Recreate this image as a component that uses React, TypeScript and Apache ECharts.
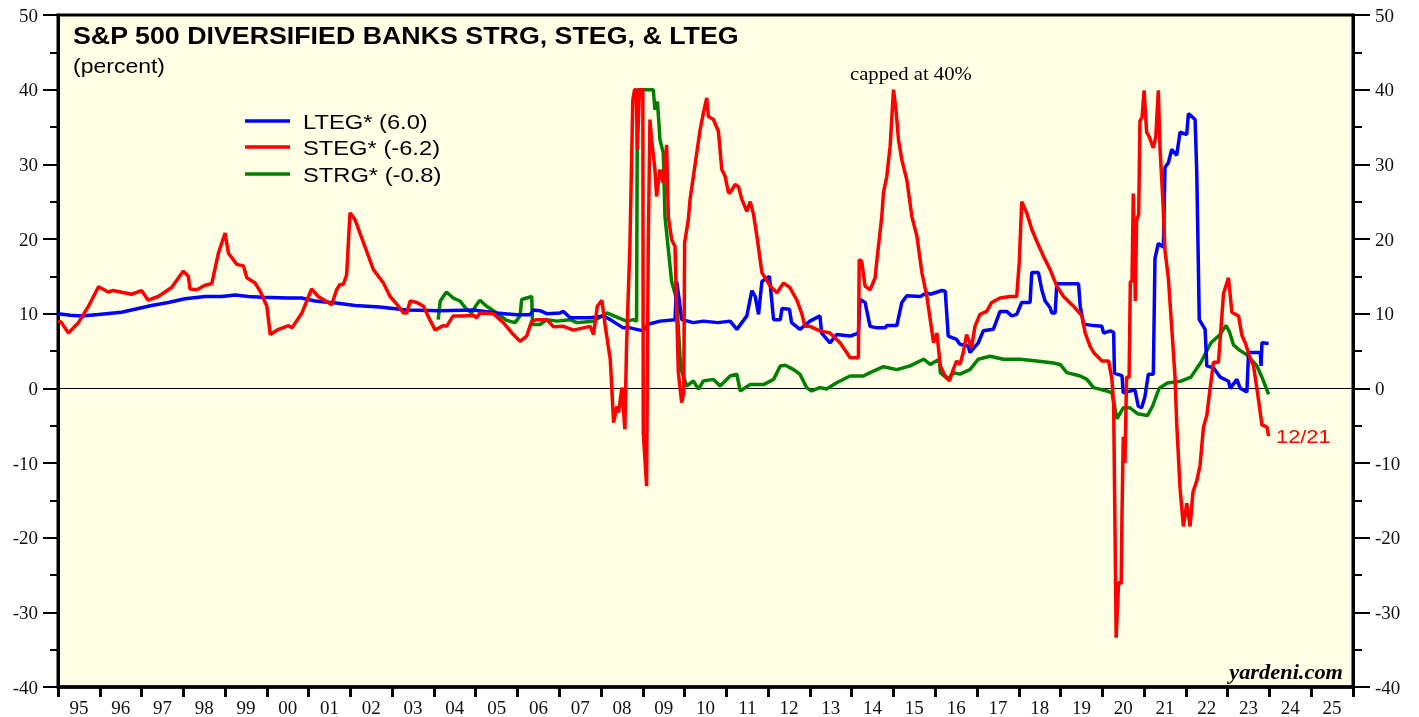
import React, { useEffect, useRef } from "react";
import * as echarts from "echarts";

const yearLabels = ["95","96","97","98","99","00","01","02","03","04","05","06","07","08","09","10","11","12","13","14","15","16","17","18","19","20","21","22","23","24","25"];
const yTicks = { min: -40, max: 50, interval: 10 };

const seriesNames = ["LTEG*", "STEG*", "STRG*"];
const legendLabels = ["LTEG* (6.0)", "STEG* (-6.2)", "STRG* (-0.8)"];
const seriesColors = ["#0000ff", "#ff0000", "#008000"];

const ltegData: number[][] = [[1995.0,10.0],[1995.3,9.8],[1995.57,9.7],[1995.97,9.9],[1996.52,10.2],[1996.84,10.6],[1997.24,11.1],[1997.64,11.5],[1998.04,12.0],[1998.52,12.3],[1998.92,12.3],[1999.24,12.5],[1999.56,12.3],[1999.88,12.2],[2000.51,12.1],[2000.83,12.1],[2001.15,11.7],[2001.71,11.4],[2002.11,11.1],[2002.7,10.9],[2003.35,10.5],[2004.15,10.4],[2004.94,10.5],[2005.5,10.1],[2005.98,9.85],[2006.3,9.85],[2006.38,10.5],[2006.54,10.4],[2006.7,10.0],[2007.02,10.1],[2007.1,10.3],[2007.26,9.45],[2007.74,9.45],[2008.06,9.7],[2008.22,9.2],[2008.53,8.1],[2008.69,8.1],[2009.01,7.7],[2009.11,8.55],[2009.41,9.0],[2009.77,9.2],[2009.81,14.3],[2009.87,11.9],[2009.93,9.2],[2010.21,8.8],[2010.45,9.0],[2010.8,8.8],[2011.09,9.0],[2011.25,7.9],[2011.49,9.7],[2011.61,13.1],[2011.69,12.3],[2011.77,9.9],[2011.85,14.3],[2012.03,15.0],[2012.13,9.2],[2012.29,9.2],[2012.33,10.7],[2012.51,10.6],[2012.56,8.8],[2012.76,7.9],[2013.0,9.0],[2013.24,9.7],[2013.28,7.4],[2013.48,6.1],[2013.64,7.2],[2013.96,7.0],[2014.16,7.4],[2014.2,11.9],[2014.32,11.5],[2014.44,8.3],[2014.6,8.1],[2014.8,8.1],[2014.84,8.4],[2015.08,8.4],[2015.2,11.5],[2015.32,12.4],[2015.64,12.3],[2015.8,12.8],[2015.88,12.6],[2016.16,13.1],[2016.24,13.0],[2016.31,7.0],[2016.51,6.55],[2016.59,5.9],[2016.79,5.65],[2016.83,4.8],[2017.03,6.1],[2017.15,7.7],[2017.39,7.9],[2017.55,10.3],[2017.71,10.3],[2017.83,9.7],[2017.95,9.9],[2018.07,11.5],[2018.27,11.5],[2018.31,15.5],[2018.47,15.5],[2018.55,13.2],[2018.63,11.7],[2018.75,10.8],[2018.79,10.1],[2018.87,10.1],[2018.91,14.0],[2019.43,14.0],[2019.47,11.0],[2019.55,8.6],[2019.79,8.4],[2019.99,8.3],[2020.03,7.4],[2020.19,7.7],[2020.27,7.5],[2020.29,2.0],[2020.47,1.7],[2020.5,-0.6],[2020.78,-0.2],[2020.86,-2.4],[2020.94,-2.6],[2021.02,-1.1],[2021.1,1.9],[2021.22,1.9],[2021.26,17.4],[2021.34,19.4],[2021.46,18.9],[2021.5,29.6],[2021.58,30.2],[2021.66,32.0],[2021.78,31.2],[2021.86,34.3],[2022.02,34.0],[2022.06,36.8],[2022.22,36.0],[2022.26,28.9],[2022.32,9.2],[2022.46,7.9],[2022.5,3.0],[2022.66,2.75],[2022.82,1.5],[2023.02,0.95],[2023.06,0],[2023.22,1.2],[2023.3,0],[2023.46,-0.5],[2023.5,4.8],[2023.78,4.8],[2023.8,3.0],[2023.82,6.1],[2023.98,6.0]];

const stegData: number[][] = [[1995.0,9.0],[1995.07,8.9],[1995.25,7.4],[1995.49,8.8],[1995.73,11.0],[1995.97,13.6],[1996.2,12.9],[1996.32,13.1],[1996.76,12.6],[1997.0,13.1],[1997.16,11.8],[1997.4,12.3],[1997.72,13.5],[1998.0,15.7],[1998.12,15.0],[1998.16,13.3],[1998.32,13.2],[1998.52,13.8],[1998.68,14.0],[1998.84,18.1],[1999.0,20.8],[1999.08,18.1],[1999.28,16.6],[1999.44,16.4],[1999.52,14.8],[1999.72,14.1],[1999.84,13.0],[2000.0,11.0],[2000.08,7.2],[2000.28,7.9],[2000.52,8.4],[2000.6,8.1],[2000.84,10.1],[2001.07,13.3],[2001.23,12.3],[2001.47,11.5],[2001.55,11.2],[2001.67,13.2],[2001.75,13.9],[2001.83,13.9],[2001.91,15.2],[2001.99,23.5],[2002.11,22.6],[2002.55,15.9],[2002.79,14.1],[2002.95,12.3],[2003.15,11.0],[2003.27,10.1],[2003.35,10.1],[2003.43,11.7],[2003.59,11.5],[2003.75,11.0],[2003.9,9.2],[2004.03,7.8],[2004.22,8.4],[2004.3,8.3],[2004.46,9.7],[2004.7,9.7],[2004.94,9.8],[2005.02,9.45],[2005.1,10.1],[2005.42,10.0],[2005.66,8.8],[2005.9,7.2],[2006.06,6.3],[2006.22,7.0],[2006.34,9.0],[2006.46,9.2],[2006.7,9.2],[2006.86,8.25],[2007.1,8.3],[2007.34,7.8],[2007.74,8.3],[2007.82,7.2],[2007.91,11.0],[2008.02,11.8],[2008.1,8.3],[2008.22,3.9],[2008.3,-4.6],[2008.38,-2.4],[2008.42,-3.25],[2008.5,0.1],[2008.57,-5.5],[2008.61,5.65],[2008.69,19.0],[2008.76,38.6],[2008.8,40],[2008.84,40],[2008.87,32.0],[2008.92,40],[2009.0,40],[2009.01,-5.9],[2009.09,-13.1],[2009.13,19.5],[2009.17,36],[2009.21,33.3],[2009.29,29.3],[2009.33,25.7],[2009.41,29.3],[2009.49,27.5],[2009.57,32.6],[2009.61,23.0],[2009.69,19.9],[2009.77,19.0],[2009.85,2.1],[2009.93,-1.9],[2009.98,-0.6],[2010.0,19.5],[2010.09,22.6],[2010.13,25.3],[2010.21,28.4],[2010.29,31.5],[2010.37,34.6],[2010.45,36.9],[2010.53,38.9],[2010.57,36.4],[2010.69,36.0],[2010.81,34.4],[2010.89,29.3],[2010.97,28.4],[2011.05,26.2],[2011.09,26.2],[2011.21,27.3],[2011.29,27.0],[2011.37,25.3],[2011.49,23.7],[2011.57,25.0],[2011.65,23.3],[2011.73,20.4],[2011.85,15.5],[2012.05,13.7],[2012.21,12.8],[2012.37,14.1],[2012.52,13.5],[2012.68,11.9],[2012.8,10.1],[2012.88,8.3],[2013.0,8.3],[2013.24,7.7],[2013.48,7.4],[2013.72,6.1],[2013.88,4.8],[2013.96,4.1],[2014.16,4.1],[2014.18,17.25],[2014.24,17.0],[2014.32,13.7],[2014.44,13.2],[2014.56,14.8],[2014.6,17.0],[2014.72,23.0],[2014.76,26.2],[2014.84,28.4],[2014.92,32.4],[2015.0,40],[2015.06,37.3],[2015.12,33.3],[2015.2,30.6],[2015.32,27.9],[2015.44,23.0],[2015.56,20.4],[2015.68,15.5],[2015.8,12.3],[2015.88,9.2],[2015.96,6.1],[2016.04,7.4],[2016.12,3.0],[2016.24,1.65],[2016.34,1.0],[2016.43,2.5],[2016.51,3.65],[2016.59,3.2],[2016.67,4.8],[2016.75,7.2],[2016.87,5.45],[2016.95,8.3],[2017.07,9.9],[2017.23,10.3],[2017.35,11.5],[2017.55,12.1],[2017.79,12.3],[2017.95,12.3],[2018.01,16.8],[2018.07,25.0],[2018.19,23.5],[2018.31,21.3],[2018.43,19.7],[2018.59,17.7],[2018.75,15.9],[2018.91,13.7],[2019.07,12.3],[2019.31,11.0],[2019.51,9.7],[2019.59,7.4],[2019.71,5.6],[2019.79,4.8],[2019.99,3.65],[2020.15,3.65],[2020.23,1.2],[2020.27,-2.1],[2020.31,-22.6],[2020.33,-33.4],[2020.39,-25.9],[2020.45,-26.2],[2020.47,-17.0],[2020.5,-6.5],[2020.54,-10.0],[2020.58,1.5],[2020.64,1.5],[2020.67,14.3],[2020.71,14.3],[2020.74,26.1],[2020.79,11.7],[2020.82,22.5],[2020.87,23.3],[2020.9,35.8],[2020.95,36.3],[2021.0,39.9],[2021.06,34.3],[2021.12,33.7],[2021.22,32.2],[2021.28,33.7],[2021.34,39.9],[2021.38,32.2],[2021.45,25.0],[2021.5,18.4],[2021.58,14.8],[2021.66,8.2],[2021.74,1.5],[2021.78,-4.7],[2021.86,-13.4],[2021.94,-18.5],[2022.02,-15.4],[2022.1,-18.5],[2022.17,-13.9],[2022.26,-12.4],[2022.34,-10.3],[2022.42,-5.2],[2022.5,-3.65],[2022.58,0],[2022.66,3.5],[2022.78,3.5],[2022.9,12.7],[2023.02,14.8],[2023.1,10.2],[2023.26,9.7],[2023.34,7.1],[2023.42,6.1],[2023.54,4.0],[2023.62,3.0],[2023.74,-1.6],[2023.82,-4.9],[2023.94,-5.2],[2023.98,-6.4]];

const strgData: number[][] = [[2004.1,9.2],[2004.15,11.7],[2004.3,12.9],[2004.46,12.1],[2004.62,11.7],[2004.78,10.6],[2004.9,10.1],[2005.02,11.2],[2005.1,11.8],[2005.26,11.0],[2005.5,10.1],[2005.74,9.1],[2005.94,8.8],[2006.06,9.7],[2006.1,11.9],[2006.34,12.3],[2006.36,8.55],[2006.54,8.55],[2006.7,9.2],[2006.94,9.0],[2007.26,9.2],[2007.42,8.8],[2007.82,9.0],[2008.14,10.1],[2008.42,9.45],[2008.61,9.0],[2008.77,9.2],[2008.85,9.0],[2008.87,40],[2009.25,40],[2009.29,37.3],[2009.35,38.4],[2009.41,33.3],[2009.49,31.5],[2009.53,23.0],[2009.61,18.6],[2009.69,14.3],[2009.81,11.9],[2009.89,4.3],[2009.93,2.3],[2010.05,0.3],[2010.21,1.0],[2010.33,-0.1],[2010.45,1.0],[2010.69,1.2],[2010.85,0.3],[2011.09,1.65],[2011.25,1.9],[2011.33,-0.35],[2011.57,0.5],[2011.89,0.5],[2012.13,1.2],[2012.29,3.0],[2012.41,3.1],[2012.61,2.5],[2012.76,1.9],[2012.92,0.1],[2013.04,-0.35],[2013.24,0.1],[2013.4,-0.1],[2013.64,0.75],[2013.96,1.65],[2014.28,1.65],[2014.44,2.1],[2014.76,2.9],[2015.08,2.5],[2015.4,3.0],[2015.72,3.9],[2015.88,3.2],[2016.0,3.6],[2016.1,3.9],[2016.12,2.1],[2016.31,1.2],[2016.43,2.1],[2016.59,1.9],[2016.83,2.5],[2017.03,3.9],[2017.31,4.3],[2017.63,3.9],[2018.03,3.9],[2018.43,3.65],[2018.83,3.4],[2018.99,3.2],[2019.15,2.1],[2019.47,1.65],[2019.63,1.2],[2019.79,0.1],[2020.11,-0.35],[2020.23,-0.6],[2020.35,-4.1],[2020.5,-2.6],[2020.66,-2.6],[2020.84,-3.4],[2021.08,-3.65],[2021.2,-2.4],[2021.36,0],[2021.56,0.7],[2021.88,0.95],[2022.12,1.5],[2022.36,3.5],[2022.6,6.1],[2022.8,7.1],[2022.96,8.4],[2023.04,7.6],[2023.14,5.8],[2023.3,5.05],[2023.46,4.5],[2023.7,3.0],[2023.82,1.5],[2023.98,-0.8]];

const SANS = '"Liberation Sans", Arial, sans-serif';
const SERIF = '"Liberation Serif", "Times New Roman", serif';

export default function App() {
  const ref = useRef<HTMLDivElement>(null);
  useEffect(() => {
    if (!ref.current) return;
    const chart = echarts.init(ref.current, null, { renderer: "svg" });
    const yAxisBase = (pos: "left" | "right", tickLen: number, minorLen: number, margin: number) => ({
      type: "value",
      position: pos,
      min: yTicks.min,
      max: yTicks.max,
      interval: yTicks.interval,
      axisLine: { show: true, onZero: false, lineStyle: { color: "#000", width: 3 } },
      axisTick: { show: true, length: tickLen, lineStyle: { color: "#000", width: 2 } },
      minorTick: { show: true, splitNumber: 2, length: minorLen, lineStyle: { color: "#000", width: 2 } },
      splitLine: { show: false },
      minorSplitLine: { show: false },
      axisLabel: { margin, fontFamily: SERIF, fontSize: 19, color: "#111" },
    });
    const datasets = [ltegData, stegData, strgData];
    const order = [2, 0, 1];
    const series: any[] = order.map((i) => ({
      name: seriesNames[i],
      type: "line",
      data: datasets[i],
      xAxisIndex: 0,
      yAxisIndex: 0,
      symbol: "none",
      showSymbol: false,
      lineStyle: { color: seriesColors[i], width: 3.5 },
      itemStyle: { color: seriesColors[i] },
      z: 3 + order.indexOf(i),
    }));
    series[0].markLine = {
      silent: true,
      symbol: ["none", "none"],
      label: { show: false },
      lineStyle: { color: "#000", width: 1, type: "solid" },
      data: [{ yAxis: 0 }],
      z: 1,
    };
    const legendGraphics: any[] = [];
    const legendY = [121, 147, 174];
    legendLabels.forEach((lbl, i) => {
      legendGraphics.push({
        type: "line",
        shape: { x1: 245, y1: legendY[i], x2: 290, y2: legendY[i] },
        style: { stroke: seriesColors[i], lineWidth: 3.5 },
        z: 10,
      });
      legendGraphics.push({
        type: "text",
        x: 303,
        y: legendY[i] + 1,
        scaleX: 1.13,
        style: { text: lbl, font: `21px ${SANS}`, fill: "#000", verticalAlign: "middle", align: "left" },
        z: 10,
      });
    });
    chart.setOption({
      animation: false,
      grid: {
        left: 58,
        right: 66,
        top: 15,
        bottom: 29,
        show: true,
        backgroundColor: "#ffffe6",
        borderColor: "#000",
        borderWidth: 3,
        containLabel: false,
      },
      xAxis: [
        {
          type: "value",
          min: 1995,
          max: 2026,
          interval: 1,
          position: "bottom",
          axisLine: { show: true, onZero: false, lineStyle: { color: "#000", width: 3.5 } },
          axisTick: { show: true, length: 10, lineStyle: { color: "#000", width: 3 } },
          axisLabel: { show: false },
          splitLine: { show: false },
        },
        {
          type: "category",
          data: yearLabels,
          boundaryGap: true,
          position: "bottom",
          axisLine: { show: false, onZero: false },
          axisTick: { show: false },
          axisLabel: { margin: 11, fontFamily: SERIF, fontSize: 19, color: "#111", interval: 0 },
          splitLine: { show: false },
        },
      ],
      yAxis: [yAxisBase("left", 15, 8, 20), yAxisBase("right", 17, 9, 22)],
      series,
      graphic: [
        {
          type: "text",
          x: 73,
          y: 36,
          scaleX: 1.165,
          style: { text: "S&P 500 DIVERSIFIED BANKS STRG, STEG, & LTEG", font: `bold 23px ${SANS}`, fill: "#000", verticalAlign: "middle" },
          z: 10,
        },
        {
          type: "text",
          x: 73,
          y: 66,
          scaleX: 1.15,
          style: { text: "(percent)", font: `20px ${SANS}`, fill: "#000", verticalAlign: "middle" },
          z: 10,
        },
        ...legendGraphics,
        {
          type: "text",
          x: 850,
          y: 74,
          scaleX: 1.15,
          style: { text: "capped at 40%", font: `18px ${SERIF}`, fill: "#000", verticalAlign: "middle" },
          z: 10,
        },
        {
          type: "text",
          x: 1276,
          y: 436,
          scaleX: 1.15,
          style: { text: "12/21", font: `19px ${SANS}`, fill: "#ff0000", verticalAlign: "middle" },
          z: 10,
        },
        {
          type: "text",
          x: 1343,
          y: 672,
          scaleX: 1.12,
          style: { text: "yardeni.com", font: `italic bold 20px ${SERIF}`, fill: "#000", verticalAlign: "middle", align: "right" },
          z: 10,
        },
      ],
    });
    return () => chart.dispose();
  }, []);
  return <div ref={ref} style={{ position: "fixed", left: 0, top: 0, width: 1419, height: 717 }} />;
}
